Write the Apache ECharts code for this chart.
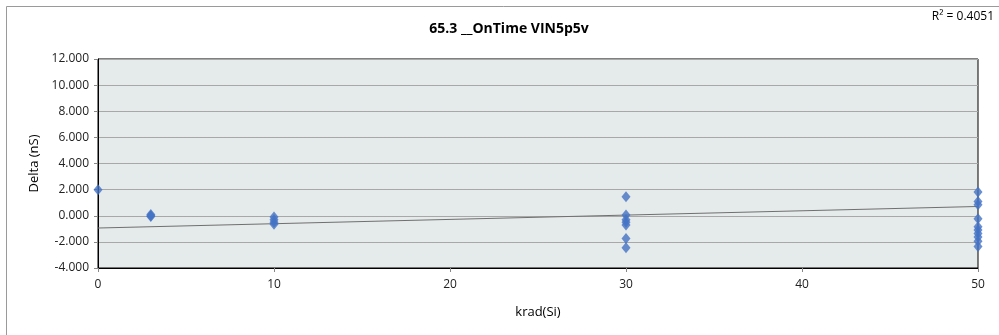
<!DOCTYPE html>
<html>
<head>
<meta charset="utf-8">
<script src="https://cdn.jsdelivr.net/npm/echarts@6/dist/echarts.min.js"></script>
<style>
html,body{margin:0;padding:0;background:#fff;}
#chart{width:999px;height:335px;}
</style>
</head>
<body>
<div id="chart"></div>
<script>
var titleText = '65.3 __OnTime VIN5p5v';
var r2Text = 'R\u00b2 = 0.4051';
var xName = 'krad(Si)';
var yName = 'Delta (nS)';

var xDose = [0, 3, 3, 3, 10, 10, 10, 10, 30, 30, 30, 30, 30, 30, 30, 50, 50, 50, 50, 50, 50, 50, 50, 50, 50];
var deltaNs = [2.0, 0.1, 0.0, -0.05, -0.1, -0.3, -0.5, -0.65, 1.45, 0.05, -0.3, -0.5, -0.7, -1.75, -2.45, 1.82, 1.1, 0.85, -0.23, -0.85, -1.1, -1.35, -1.62, -1.95, -2.35];

var trendX = [0, 50];
var trendY = [-0.94, 0.71];

var points = xDose.map(function (x, i) { return [x, deltaNs[i]]; });
var trend = trendX.map(function (x, i) { return [x, trendY[i]]; });

var font = '"Open Sans", Lato, sans-serif';
var chart = echarts.init(document.getElementById('chart'), null, {renderer: 'canvas'});
chart.setOption({
  animation: false,
  backgroundColor: '#ffffff',
  title: {
    text: titleText,
    left: 504,
    textAlign: 'center',
    top: 17,
    textStyle: {fontFamily: font, fontSize: 14, fontWeight: 'bold', color: '#000'}
  },
  grid: {
    left: 98, right: 21, top: 59, bottom: 67,
    show: true, backgroundColor: '#e5eaea', borderColor: '#000', borderWidth: 1
  },
  xAxis: {
    type: 'value', min: 0, max: 50, interval: 10,
    name: xName, nameLocation: 'middle', nameGap: 38,
    nameTextStyle: {fontFamily: font, fontSize: 13, color: '#000'},
    axisLine: {show: true, onZero: false, lineStyle: {color: '#000', width: 1}},
    axisTick: {show: true, length: 4, lineStyle: {color: '#888'}},
    axisLabel: {fontFamily: font, fontSize: 12, color: '#222', margin: 11},
    splitLine: {show: false}
  },
  yAxis: {
    type: 'value', min: -4, max: 12, interval: 2,
    name: yName, nameLocation: 'middle', nameGap: 54, nameRotate: 90,
    nameTextStyle: {fontFamily: font, fontSize: 13, color: '#000'},
    axisLine: {show: true, onZero: false, lineStyle: {color: '#000', width: 1}},
    axisTick: {show: true, length: 4, lineStyle: {color: '#888'}},
    axisLabel: {fontFamily: font, fontSize: 12, color: '#222', margin: 9,
      formatter: function (v) { return v.toFixed(3); }},
    splitLine: {show: true, lineStyle: {color: '#a8a8a8', width: 1}}
  },
  series: [
    {
      type: 'line', data: trend, symbol: 'none', silent: true,
      lineStyle: {color: '#707070', width: 1}, z: 2
    },
    {
      type: 'scatter', data: points, symbol: 'diamond', symbolSize: [9, 11],
      itemStyle: {color: '#4472c4'}, z: 3
    }
  ],
  graphic: [
    {
      type: 'rect', shape: {x: 6.5, y: 6.5, width: 1010, height: 360},
      style: {fill: null, stroke: '#9a9a9a', lineWidth: 1}, silent: true
    },
    {
      type: 'text', right: 5, top: 11,
      style: {text: r2Text, fontFamily: font, fontSize: 12, fill: '#000'}
    }
  ]
});
</script>
</body>
</html>
